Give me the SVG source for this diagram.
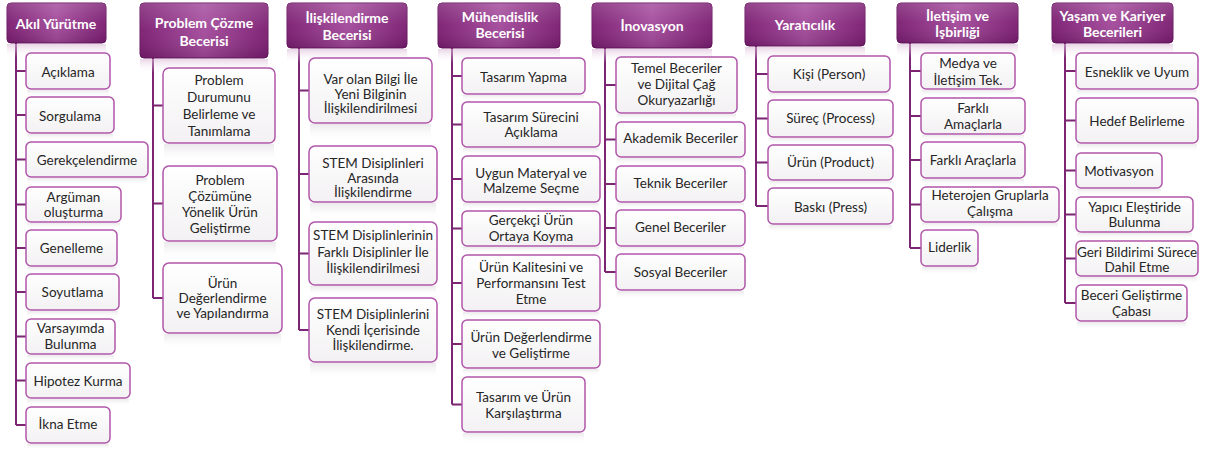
<svg xmlns="http://www.w3.org/2000/svg" width="1205" height="450" viewBox="0 0 1205 450">
<defs>
<linearGradient id="hg" x1="0" y1="0" x2="1" y2="0">
<stop offset="0" stop-color="#7a1b70"/>
<stop offset="0.5" stop-color="#a2489a"/>
<stop offset="1" stop-color="#7a1b70"/>
</linearGradient>
<linearGradient id="hv" x1="0" y1="0" x2="0" y2="1">
<stop offset="0" stop-color="#ffffff" stop-opacity="0.18"/>
<stop offset="0.5" stop-color="#ffffff" stop-opacity="0.05"/>
<stop offset="1" stop-color="#000000" stop-opacity="0.12"/>
</linearGradient>
<linearGradient id="bg" x1="0" y1="0" x2="0" y2="1">
<stop offset="0" stop-color="#ffffff"/>
<stop offset="1" stop-color="#f3f1f3"/>
</linearGradient>
<linearGradient id="rf" x1="0" y1="0" x2="0" y2="1">
<stop offset="0" stop-color="#e2dfe2" stop-opacity="0.7"/>
<stop offset="1" stop-color="#ffffff" stop-opacity="0"/>
</linearGradient>
<linearGradient id="hrf" x1="0" y1="0" x2="0" y2="1">
<stop offset="0" stop-color="#d9b7d5" stop-opacity="0.6"/>
<stop offset="1" stop-color="#ffffff" stop-opacity="0"/>
</linearGradient>
</defs>
<style>
.hdr{fill:url(#hg);stroke:#6a1462;stroke-width:1}
.hsh{fill:url(#hv)}
.hrefl{fill:url(#hrf)}
.box{fill:url(#bg);stroke:#b056a9;stroke-width:1.5}
.refl{fill:url(#rf)}
.ht{font-family:Lato,"Open Sans",sans-serif;font-weight:bold;font-size:14px;fill:#ffffff;text-anchor:middle}
.bt{font-family:Lato,"Open Sans",sans-serif;font-size:13.5px;fill:#262626;text-anchor:middle}
.con{fill:none;stroke:#7b2573;stroke-width:2}
</style>
<rect width="1205" height="450" fill="#ffffff"/>

<g id="connectors">
<path class="con" d="M16 43V425M16 71H26M16 115H26M16 159.5H26M16 204.5H26M16 248H26M16 292H26M16 336.5H26M16 380.5H26M16 425H26"/>
<path class="con" d="M153 58V298M153 105.5H163M153 203.5H163M153 298H163"/>
<path class="con" d="M299 48V330M299 90.5H309M299 174H309M299 253.5H309M299 330H309"/>
<path class="con" d="M452 48V404.5M452 76H462M452 124.5H462M452 179H462M452 228.5H462M452 283H462M452 344H462M452 404.5H462"/>
<path class="con" d="M605 48V272M605 85H616M605 139.5H616M605 184H616M605 228H616M605 272H616"/>
<path class="con" d="M756 46V206M756 74H768M756 118.5H768M756 162.5H768M756 206H768"/>
<path class="con" d="M910 43V248M910 71H921M910 116H921M910 160H921M910 204.5H921M910 248H921"/>
<path class="con" d="M1065 43V303M1065 71H1076M1065 120.5H1076M1065 170.5H1076M1065 214.5H1076M1065 258.5H1076M1065 303H1076"/>
</g>

<g id="h1"><rect class="hrefl" x="7" y="44" width="99" height="14"/><rect class="hdr" x="7" y="3" width="99" height="40" rx="4"/><rect class="hsh" x="7" y="3" width="99" height="40" rx="4"/><text class="ht" x="56" y="29">Akıl Yürütme</text></g>
<g id="h2"><rect class="hrefl" x="140" y="59" width="128" height="14"/><rect class="hdr" x="140" y="3" width="128" height="55" rx="4"/><rect class="hsh" x="140" y="3" width="128" height="55" rx="4"/><text class="ht" x="204" y="28">Problem Çözme</text><text class="ht" x="204" y="46">Becerisi</text></g>
<g id="h3"><rect class="hrefl" x="287" y="49" width="120" height="14"/><rect class="hdr" x="287" y="3" width="120" height="45" rx="4"/><rect class="hsh" x="287" y="3" width="120" height="45" rx="4"/><text class="ht" x="347" y="22.5">İlişkilendirme</text><text class="ht" x="347" y="39.5">Becerisi</text></g>
<g id="h4"><rect class="hrefl" x="438" y="49" width="122" height="14"/><rect class="hdr" x="438" y="3" width="122" height="45" rx="4"/><rect class="hsh" x="438" y="3" width="122" height="45" rx="4"/><text class="ht" x="500" y="21.5">Mühendislik</text><text class="ht" x="500" y="38">Becerisi</text></g>
<g id="h5"><rect class="hrefl" x="592" y="49" width="120" height="14"/><rect class="hdr" x="592" y="3" width="120" height="45" rx="4"/><rect class="hsh" x="592" y="3" width="120" height="45" rx="4"/><text class="ht" x="652" y="30.5">İnovasyon</text></g>
<g id="h6"><rect class="hrefl" x="745" y="47" width="120" height="14"/><rect class="hdr" x="745" y="3" width="120" height="43" rx="4"/><rect class="hsh" x="745" y="3" width="120" height="43" rx="4"/><text class="ht" x="805" y="29.5">Yaratıcılık</text></g>
<g id="h7"><rect class="hrefl" x="897" y="44" width="121" height="14"/><rect class="hdr" x="897" y="3" width="121" height="40" rx="4"/><rect class="hsh" x="897" y="3" width="121" height="40" rx="4"/><text class="ht" x="957.5" y="20.5">İletişim ve</text><text class="ht" x="957.5" y="36.5">İşbirliği</text></g>
<g id="h8"><rect class="hrefl" x="1052" y="44" width="121" height="14"/><rect class="hdr" x="1052" y="3" width="121" height="40" rx="4"/><rect class="hsh" x="1052" y="3" width="121" height="40" rx="4"/><text class="ht" x="1112.5" y="20.5">Yaşam ve Kariyer</text><text class="ht" x="1112.5" y="36.5">Becerileri</text></g>

<!-- column 1 -->
<g id="c1n1"><rect class="refl" x="27" y="90" width="82" height="7"/><rect class="box" x="26" y="53" width="84" height="36" rx="5"/><text class="bt" x="68" y="76.5">Açıklama</text></g>
<g id="c1n2"><rect class="refl" x="27" y="134" width="86" height="7"/><rect class="box" x="26" y="97" width="88" height="36" rx="5"/><text class="bt" x="70" y="121">Sorgulama</text></g>
<g id="c1n3"><rect class="refl" x="27" y="178" width="120" height="7"/><rect class="box" x="26" y="142" width="122" height="35" rx="5"/><text class="bt" x="87" y="164.5">Gerekçelendirme</text></g>
<g id="c1n4"><rect class="refl" x="27" y="223" width="93" height="6"/><rect class="box" x="26" y="187" width="95" height="35" rx="5"/><text class="bt" x="73.5" y="201.5">Argüman</text><text class="bt" x="73.5" y="216.5">oluşturma</text></g>
<g id="c1n5"><rect class="refl" x="27" y="267" width="89" height="6"/><rect class="box" x="26" y="230" width="91" height="36" rx="5"/><text class="bt" x="71.5" y="252.5">Genelleme</text></g>
<g id="c1n6"><rect class="refl" x="27" y="311" width="91" height="7"/><rect class="box" x="26" y="274" width="93" height="36" rx="5"/><text class="bt" x="72.5" y="296.5">Soyutlama</text></g>
<g id="c1n7"><rect class="refl" x="27" y="355" width="87" height="7"/><rect class="box" x="26" y="319" width="89" height="35" rx="5"/><text class="bt" x="70.5" y="332.5">Varsayımda</text><text class="bt" x="70.5" y="348.5">Bulunma</text></g>
<g id="c1n8"><rect class="refl" x="27" y="399" width="102" height="7"/><rect class="box" x="26" y="363" width="104" height="35" rx="5"/><text class="bt" x="78" y="385.5">Hipotez Kurma</text></g>
<g id="c1n9"><rect class="refl" x="27" y="444" width="82" height="6"/><rect class="box" x="26" y="407" width="84" height="36" rx="5"/><text class="bt" x="68" y="428.5">İkna Etme</text></g>

<!-- column 2 -->
<g id="c2n1"><rect class="refl" x="164" y="144" width="110" height="18"/><rect class="box" x="163" y="68" width="112" height="75" rx="6"/><text class="bt" x="219" y="84.5">Problem</text><text class="bt" x="219" y="102">Durumunu</text><text class="bt" x="219" y="119">Belirleme ve</text><text class="bt" x="219" y="135.5">Tanımlama</text></g>
<g id="c2n2"><rect class="refl" x="164" y="242" width="112" height="18"/><rect class="box" x="163" y="166" width="114" height="75" rx="6"/><text class="bt" x="220" y="185">Problem</text><text class="bt" x="220" y="201">Çözümüne</text><text class="bt" x="220" y="217">Yönelik Ürün</text><text class="bt" x="220" y="233">Geliştirme</text></g>
<g id="c2n3"><rect class="refl" x="164" y="334" width="117" height="14"/><rect class="box" x="163" y="263" width="119" height="70" rx="6"/><text class="bt" x="222.5" y="288">Ürün</text><text class="bt" x="222.5" y="302.5">Değerlendirme</text><text class="bt" x="222.5" y="318">ve Yapılandırma</text></g>

<!-- column 3 -->
<g id="c3n1"><rect class="refl" x="310" y="124" width="121" height="16"/><rect class="box" x="309" y="58" width="123" height="65" rx="6"/><text class="bt" x="370.5" y="84">Var olan Bilgi İle</text><text class="bt" x="370.5" y="98.5">Yeni Bilginin</text><text class="bt" x="370.5" y="113">İlişkilendirilmesi</text></g>
<g id="c3n2"><rect class="refl" x="310" y="203" width="126" height="16"/><rect class="box" x="309" y="146" width="128" height="56" rx="6"/><text class="bt" x="373" y="168">STEM Disiplinleri</text><text class="bt" x="373" y="182.5">Arasında</text><text class="bt" x="373" y="197">İlişkilendirme</text></g>
<g id="c3n3"><rect class="refl" x="310" y="286" width="126" height="10"/><rect class="box" x="309" y="222" width="128" height="63" rx="6"/><text class="bt" x="373" y="240">STEM Disiplinlerinin</text><text class="bt" x="373" y="256.5">Farklı Disiplinler İle</text><text class="bt" x="373" y="273">İlişkilendirilmesi</text></g>
<g id="c3n4"><rect class="refl" x="310" y="363" width="126" height="16"/><rect class="box" x="309" y="298" width="128" height="64" rx="6"/><text class="bt" x="373" y="319">STEM Disiplinlerini</text><text class="bt" x="373" y="334.5">Kendi İçerisinde</text><text class="bt" x="373" y="350">İlişkilendirme.</text></g>

<!-- column 4 -->
<g id="c4n1"><rect class="refl" x="463" y="95" width="121" height="6"/><rect class="box" x="462" y="58" width="123" height="36" rx="5"/><text class="bt" x="523.5" y="81.5">Tasarım Yapma</text></g>
<g id="c4n2"><rect class="refl" x="463" y="148" width="136" height="7"/><rect class="box" x="462" y="102" width="138" height="45" rx="5"/><text class="bt" x="531" y="121.5">Tasarım Sürecini</text><text class="bt" x="531" y="136.5">Açıklama</text></g>
<g id="c4n3"><rect class="refl" x="463" y="203" width="136" height="7"/><rect class="box" x="462" y="156" width="138" height="46" rx="5"/><text class="bt" x="531" y="177.5">Uygun Materyal ve</text><text class="bt" x="531" y="192.5">Malzeme Seçme</text></g>
<g id="c4n4"><rect class="refl" x="463" y="247" width="136" height="7"/><rect class="box" x="462" y="211" width="138" height="35" rx="5"/><text class="bt" x="531" y="224.5">Gerçekçi Ürün</text><text class="bt" x="531" y="240.5">Ortaya Koyma</text></g>
<g id="c4n5"><rect class="refl" x="463" y="312" width="136" height="7"/><rect class="box" x="462" y="255" width="138" height="56" rx="5"/><text class="bt" x="531" y="271.5">Ürün Kalitesini ve</text><text class="bt" x="531" y="287.5">Performansını Test</text><text class="bt" x="531" y="303.5">Etme</text></g>
<g id="c4n6"><rect class="refl" x="463" y="369" width="136" height="7"/><rect class="box" x="462" y="320" width="138" height="48" rx="5"/><text class="bt" x="531" y="341.5">Ürün Değerlendirme</text><text class="bt" x="531" y="357.5">ve Geliştirme</text></g>
<g id="c4n7"><rect class="refl" x="463" y="433" width="121" height="10"/><rect class="box" x="462" y="377" width="123" height="55" rx="5"/><text class="bt" x="523.5" y="401.5">Tasarım ve Ürün</text><text class="bt" x="523.5" y="417.5">Karşılaştırma</text></g>

<!-- column 5 -->
<g id="c5n1"><rect class="refl" x="617" y="114" width="119" height="7"/><rect class="box" x="616" y="57" width="121" height="56" rx="5"/><text class="bt" x="676.5" y="72.5">Temel Beceriler</text><text class="bt" x="676.5" y="89">ve Dijital Çağ</text><text class="bt" x="676.5" y="104.5">Okuryazarlığı</text></g>
<g id="c5n2"><rect class="refl" x="617" y="158" width="127" height="7"/><rect class="box" x="616" y="122" width="129" height="35" rx="5"/><text class="bt" x="680.5" y="142.5">Akademik Beceriler</text></g>
<g id="c5n3"><rect class="refl" x="617" y="203" width="127" height="6"/><rect class="box" x="616" y="166" width="129" height="36" rx="5"/><text class="bt" x="680.5" y="187.5">Teknik Beceriler</text></g>
<g id="c5n4"><rect class="refl" x="617" y="247" width="127" height="6"/><rect class="box" x="616" y="210" width="129" height="36" rx="5"/><text class="bt" x="680.5" y="232">Genel Beceriler</text></g>
<g id="c5n5"><rect class="refl" x="617" y="291" width="127" height="8"/><rect class="box" x="616" y="254" width="129" height="36" rx="5"/><text class="bt" x="680.5" y="276.5">Sosyal Beceriler</text></g>

<!-- column 6 -->
<g id="c6n1"><rect class="refl" x="769" y="93" width="120" height="6"/><rect class="box" x="768" y="56" width="122" height="36" rx="5"/><text class="bt" x="829" y="78.5">Kişi (Person)</text></g>
<g id="c6n2"><rect class="refl" x="769" y="138" width="123" height="6"/><rect class="box" x="768" y="100" width="125" height="37" rx="5"/><text class="bt" x="830.5" y="122.5">Süreç (Process)</text></g>
<g id="c6n3"><rect class="refl" x="769" y="181" width="123" height="6"/><rect class="box" x="768" y="145" width="125" height="35" rx="5"/><text class="bt" x="830.5" y="167">Ürün (Product)</text></g>
<g id="c6n4"><rect class="refl" x="769" y="225" width="123" height="8"/><rect class="box" x="768" y="188" width="125" height="36" rx="5"/><text class="bt" x="830.5" y="211.5">Baskı (Press)</text></g>

<!-- column 7 -->
<g id="c7n1"><rect class="refl" x="922" y="90" width="92" height="7"/><rect class="box" x="921" y="53" width="94" height="36" rx="5"/><text class="bt" x="968" y="67.5">Medya ve</text><text class="bt" x="968" y="84.5">İletişim Tek.</text></g>
<g id="c7n2"><rect class="refl" x="922" y="135" width="102" height="6"/><rect class="box" x="921" y="98" width="104" height="36" rx="5"/><text class="bt" x="973" y="112.5">Farklı</text><text class="bt" x="973" y="128.5">Amaçlarla</text></g>
<g id="c7n3"><rect class="refl" x="922" y="179" width="102" height="7"/><rect class="box" x="921" y="142" width="104" height="36" rx="5"/><text class="bt" x="973" y="164.5">Farklı Araçlarla</text></g>
<g id="c7n4"><rect class="refl" x="922" y="223" width="136" height="6"/><rect class="box" x="921" y="187" width="138" height="35" rx="5"/><text class="bt" x="990" y="199.5">Heterojen Gruplarla</text><text class="bt" x="990" y="215.5">Çalışma</text></g>
<g id="c7n5"><rect class="refl" x="922" y="267" width="55" height="8"/><rect class="box" x="921" y="230" width="57" height="36" rx="5"/><text class="bt" x="949.5" y="251.5">Liderlik</text></g>

<!-- column 8 -->
<g id="c8n1"><rect class="refl" x="1077" y="90" width="120" height="7"/><rect class="box" x="1076" y="53" width="122" height="36" rx="5"/><text class="bt" x="1137" y="76.5">Esneklik ve Uyum</text></g>
<g id="c8n2"><rect class="refl" x="1077" y="144" width="120" height="8"/><rect class="box" x="1076" y="98" width="122" height="45" rx="5"/><text class="bt" x="1137" y="125.5">Hedef Belirleme</text></g>
<g id="c8n3"><rect class="refl" x="1077" y="189" width="84" height="7"/><rect class="box" x="1076" y="153" width="86" height="35" rx="5"/><text class="bt" x="1119" y="175.5">Motivasyon</text></g>
<g id="c8n4"><rect class="refl" x="1077" y="233" width="115" height="7"/><rect class="box" x="1076" y="197" width="117" height="35" rx="5"/><text class="bt" x="1134.5" y="211.5">Yapıcı Eleştiride</text><text class="bt" x="1134.5" y="226.5">Bulunma</text></g>
<g id="c8n5"><rect class="refl" x="1077" y="277" width="120" height="7"/><rect class="box" x="1076" y="241" width="122" height="35" rx="5"/><text class="bt" x="1137" y="256.5">Geri Bildirimi Sürece</text><text class="bt" x="1137" y="271.5">Dahil Etme</text></g>
<g id="c8n6"><rect class="refl" x="1077" y="322" width="109" height="8"/><rect class="box" x="1076" y="285" width="111" height="36" rx="5"/><text class="bt" x="1131.5" y="299.5">Beceri Geliştirme</text><text class="bt" x="1131.5" y="315.5">Çabası</text></g>
</svg>
